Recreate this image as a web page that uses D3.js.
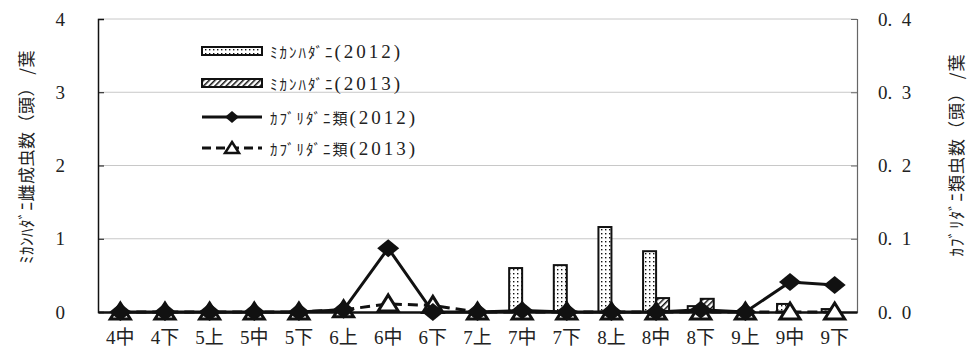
<!DOCTYPE html>
<html>
<head>
<meta charset="utf-8">
<script src="https://cdn.jsdelivr.net/npm/d3@7"></script>
<style>
  html, body { margin: 0; padding: 0; background: #fff; }
  svg { display: block; }
  text { fill: #222; }
</style>
</head>
<body>
<svg id="chart" width="975" height="347"></svg>
<script>
// Survey periods (month + early/mid/late decade)
const categories = ["4中","4下","5上","5中","5下","6上","6中","6下","7上","7中","7下","8上","8中","8下","9上","9中","9下"];

// Citrus red mite, adult females per leaf (left axis)
const mikan2012 = [0, 0, 0, 0, 0, 0, 0, 0, 0, 0.60, 0.64, 1.16, 0.83, 0.08, 0, 0.11, 0.04];
const mikan2013 = [0, 0, 0, 0, 0, 0, 0, 0, 0, 0, 0, 0, 0.19, 0.18, 0, 0, 0];

// Phytoseiid mites per leaf (right axis)
const kabu2012 = [0, 0, 0, 0, 0, 0.003, 0.087, 0, 0, 0.002, 0, 0, 0, 0.003, 0, 0.041, 0.037];
const kabu2013 = [0, 0, 0, 0, 0, 0.003, 0.011, 0.009, 0, 0, 0, 0, 0, 0, 0, 0, 0];

const leftTicks = [0, 1, 2, 3, 4];
const rightTicks = [0, 0.1, 0.2, 0.3, 0.4];

// Legend entries: name part and year part
const legendNames = ["ﾐｶﾝﾊﾀﾞﾆ", "ﾐｶﾝﾊﾀﾞﾆ", "ｶﾌﾞﾘﾀﾞﾆ類", "ｶﾌﾞﾘﾀﾞﾆ類"];
const legendYears = ["(2012)", "(2013)", "(2012)", "(2013)"];
const leftTitle = "ﾐｶﾝﾊﾀﾞﾆ雌成虫数（頭） /葉";
const rightTitle = "ｶﾌﾞﾘﾀﾞﾆ類虫数（頭） /葉";

const SERIF = "'Liberation Serif', 'Times New Roman', 'DejaVu Serif', 'Noto Sans CJK JP', serif";
const JP = "'Noto Sans CJK JP', sans-serif";

const svg = d3.select("#chart");
const plot = { left: 98, right: 857, top: 19, bottom: 312 };

const x = d3.scaleBand().domain(categories).range([plot.left, plot.right]);
const yL = d3.scaleLinear().domain([0, 4]).range([plot.bottom, plot.top]);
const yR = d3.scaleLinear().domain([0, 0.4]).range([plot.bottom, plot.top]);
const cx = c => x(c) + x.bandwidth() / 2;

// Fill patterns for the bars
const defs = svg.append("defs");
const dots = defs.append("pattern").attr("id", "dots")
  .attr("patternUnits", "userSpaceOnUse").attr("width", 4).attr("height", 4);
dots.append("rect").attr("width", 4).attr("height", 4).attr("fill", "#fff");
dots.append("rect").attr("x", 1).attr("y", 1).attr("width", 1.4).attr("height", 1.4).attr("fill", "#111");

const hatch = defs.append("pattern").attr("id", "hatch")
  .attr("patternUnits", "userSpaceOnUse").attr("width", 4).attr("height", 4)
  .attr("patternTransform", "rotate(45)");
hatch.append("rect").attr("width", 4).attr("height", 4).attr("fill", "#fff");
hatch.append("rect").attr("x", 0).attr("y", 0).attr("width", 1.5).attr("height", 4).attr("fill", "#111");

// Horizontal gridlines
svg.append("g").selectAll("line").data(leftTicks.slice(1)).join("line")
  .attr("x1", plot.left).attr("x2", plot.right)
  .attr("y1", d => yL(d)).attr("y2", d => yL(d))
  .attr("stroke", "#c8c8c8").attr("stroke-width", 1);

// Bars
const bw = 13;
const barG = svg.append("g");
barG.selectAll("rect.b12").data(categories.map((c, i) => ({ c, v: mikan2012[i] })).filter(d => d.v > 0))
  .join("rect").attr("class", "b12")
  .attr("x", d => cx(d.c) - bw).attr("width", bw)
  .attr("y", d => yL(d.v)).attr("height", d => yL(0) - yL(d.v))
  .attr("fill", "url(#dots)").attr("stroke", "#111").attr("stroke-width", 2);
barG.selectAll("rect.b13").data(categories.map((c, i) => ({ c, v: mikan2013[i] })).filter(d => d.v > 0))
  .join("rect").attr("class", "b13")
  .attr("x", d => cx(d.c)).attr("width", bw)
  .attr("y", d => yL(d.v)).attr("height", d => yL(0) - yL(d.v))
  .attr("fill", "url(#hatch)").attr("stroke", "#111").attr("stroke-width", 2);

// Left axis
const axL = svg.append("g").attr("transform", `translate(${plot.left},0)`)
  .call(d3.axisLeft(yL).tickValues(leftTicks).tickSize(-6).tickPadding(33).tickFormat(d3.format("d")));
axL.attr("font-family", SERIF).attr("font-size", 19);
axL.select(".domain").attr("stroke", "#111").attr("stroke-width", 1.5);
axL.selectAll(".tick line").attr("stroke", "#111");
axL.selectAll("text").style("font-family", SERIF).style("font-size", "19px");

// Right axis
const axR = svg.append("g").attr("transform", `translate(${plot.right},0)`)
  .call(d3.axisRight(yR).tickValues(rightTicks).tickSize(-6).tickPadding(21)
    .tickFormat(d => d.toFixed(1).replace(".", ".\u2002")));
axR.attr("font-family", SERIF).attr("font-size", 19);
axR.select(".domain").attr("stroke", "#666").attr("stroke-width", 1.2);
axR.selectAll(".tick line").attr("stroke", "#666");
axR.selectAll("text").style("font-family", SERIF).style("font-size", "19px");

// Bottom axis
const axB = svg.append("g").attr("transform", `translate(0,${plot.bottom})`)
  .call(d3.axisBottom(x).tickSize(0).tickPadding(19));
axB.attr("font-family", SERIF).attr("font-size", 19);
axB.select(".domain").attr("stroke", "#111").attr("stroke-width", 2.5);
axB.selectAll("text").style("font-family", SERIF).style("font-size", "19px");

// Phytoseiid lines
const line12 = d3.line().x((d, i) => cx(categories[i])).y(d => yR(d));
const triangle = "M0,-9 L10,7 L-10,7 Z";
const diamond = "M0,-9 L11,0 L0,9 L-11,0 Z";

svg.append("path").datum(kabu2013).attr("d", line12)
  .attr("fill", "none").attr("stroke", "#111").attr("stroke-width", 3).attr("stroke-dasharray", "10,6");
svg.append("g").selectAll("path").data(kabu2013).join("path")
  .attr("d", triangle)
  .attr("transform", (d, i) => `translate(${cx(categories[i])},${yR(d)})`)
  .attr("fill", "#fff").attr("stroke", "#111").attr("stroke-width", 3).attr("stroke-linejoin", "miter");

svg.append("path").datum(kabu2012).attr("d", line12)
  .attr("fill", "none").attr("stroke", "#111").attr("stroke-width", 3);
svg.append("g").selectAll("path").data(kabu2012).join("path")
  .attr("d", diamond)
  .attr("transform", (d, i) => `translate(${cx(categories[i])},${yR(d)})`)
  .attr("fill", "#111");

// Legend
const lg = svg.append("g");
const rowY = [51, 83, 117, 148];
const sx0 = 202, sx1 = 262;
lg.append("rect").attr("x", sx0).attr("y", rowY[0] - 4).attr("width", sx1 - sx0).attr("height", 8)
  .attr("fill", "url(#dots)").attr("stroke", "#111").attr("stroke-width", 2);
lg.append("rect").attr("x", sx0).attr("y", rowY[1] - 4).attr("width", sx1 - sx0).attr("height", 8)
  .attr("fill", "url(#hatch)").attr("stroke", "#111").attr("stroke-width", 2);
lg.append("line").attr("x1", sx0).attr("x2", sx1).attr("y1", rowY[2]).attr("y2", rowY[2])
  .attr("stroke", "#111").attr("stroke-width", 3);
lg.append("path").attr("d", "M0,-6 L7,0 L0,6 L-7,0 Z")
  .attr("transform", `translate(${(sx0 + sx1) / 2},${rowY[2]})`).attr("fill", "#111");
lg.append("line").attr("x1", sx0).attr("x2", sx1).attr("y1", rowY[3]).attr("y2", rowY[3])
  .attr("stroke", "#111").attr("stroke-width", 3).attr("stroke-dasharray", "9,5");
lg.append("path").attr("d", "M0,-6 L7,5 L-7,5 Z")
  .attr("transform", `translate(${(sx0 + sx1) / 2},${rowY[3]})`)
  .attr("fill", "#fff").attr("stroke", "#111").attr("stroke-width", 2.5);
const lt = lg.selectAll("text").data(legendNames).join("text")
  .attr("x", 270).attr("y", (d, i) => rowY[i])
  .attr("dominant-baseline", "central");
lt.append("tspan").style("font-family", JP).style("font-size", "15px")
  .style("letter-spacing", "2px").text(d => d);
lt.append("tspan").style("font-family", SERIF).style("font-size", "19px")
  .style("letter-spacing", "3px").text((d, i) => legendYears[i]);

// Axis titles
svg.append("text")
  .attr("transform", "translate(25,157) rotate(-90)")
  .attr("text-anchor", "middle").attr("dominant-baseline", "central")
  .style("font-family", JP).style("font-size", "17px").style("letter-spacing", "0.5px").text(leftTitle);
svg.append("text")
  .attr("transform", "translate(955,155) rotate(-90)")
  .attr("text-anchor", "middle").attr("dominant-baseline", "central")
  .style("font-family", JP).style("font-size", "17px").style("letter-spacing", "1px").text(rightTitle);
</script>
</body>
</html>
